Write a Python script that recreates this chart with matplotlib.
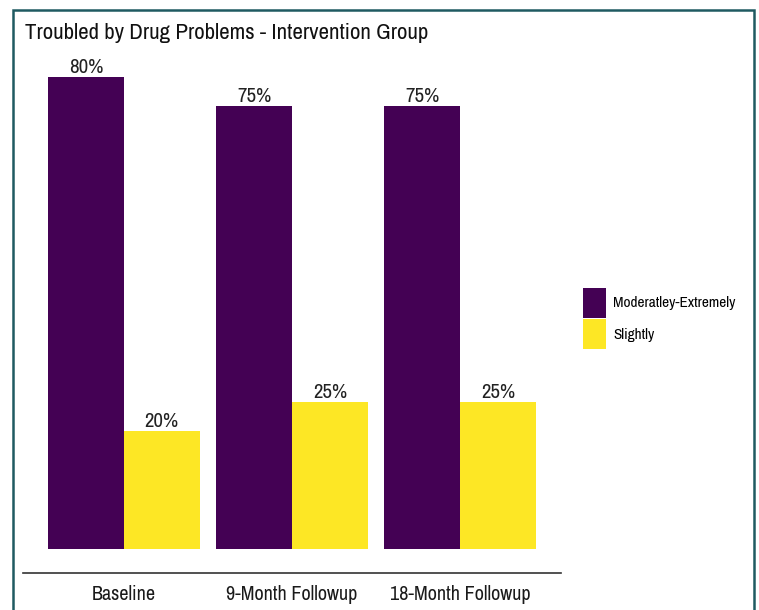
import numpy as np
import matplotlib.pyplot as plt
from matplotlib.patches import Rectangle, Patch

plt.rcParams['font.family'] = ['Archivo Narrow', 'Liberation Sans', 'DejaVu Sans']

# survey waves and response shares (%)
waves = ['Baseline', '9-Month Followup', '18-Month Followup']
moderately_extremely = [80, 75, 75]
slightly = [20, 25, 25]
series_names = ['Moderatley-Extremely', 'Slightly']
colors = ['#440154', '#FDE725']

fig = plt.figure(figsize=(7.59, 6.10), dpi=100)
ax = fig.add_axes([23 / 759, 37 / 610, 538 / 759, 520 / 610])

x = np.arange(1, len(waves) + 1)
w = 0.45
for offset, vals, c in [(-w / 2, moderately_extremely, colors[0]), (w / 2, slightly, colors[1])]:
    bars = ax.bar(x + offset, vals, width=w, color=c)
    for b, v in zip(bars, vals):
        ax.text(b.get_x() + b.get_width() / 2, v, f'{v}%', ha='center', va='bottom',
                fontsize=15, color='#222222')

ax.set_xlim(0.4, 3.6)
ax.set_ylim(-4, 84)
ax.set_xticks(x)
ax.set_xticklabels(waves, fontsize=14.5, color='#1a1a1a')
ax.tick_params(axis='x', length=0, pad=9)
ax.set_yticks([])
for s in ['top', 'right', 'left']:
    ax.spines[s].set_visible(False)
ax.spines['bottom'].set_color('#333333')
ax.spines['bottom'].set_linewidth(1.2)

fig.text(25 / 759, 1 - 33 / 610, 'Troubled by Drug Problems - Intervention Group',
         fontsize=16.5, va='center', ha='left', color='#111111')

handles = [Patch(facecolor=c, edgecolor='none') for c in colors]
fig.legend(handles, series_names, loc='center left', bbox_to_anchor=(569 / 759, 1 - 318.5 / 610),
           frameon=False, fontsize=11, handlelength=1.5, handleheight=2.65,
           labelspacing=0.1, handletextpad=0.5)

# outer frame around the chart
fig.patches.append(Rectangle((12.5 / 759, -0.05), (754 - 12.5) / 759, 1.05 - 9.5 / 610,
                             transform=fig.transFigure, fill=False,
                             edgecolor='#1F5A61', linewidth=1.8))

fig.savefig('out.png', dpi=100)
